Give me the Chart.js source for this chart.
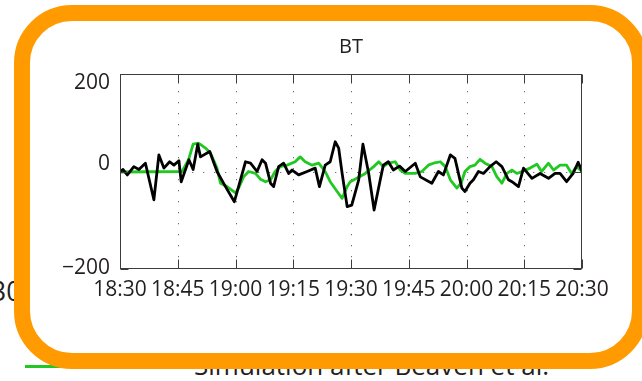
<!DOCTYPE html>
<html>
<head>
<meta charset="utf-8">
<script src="https://cdn.jsdelivr.net/npm/chart.js@4"></script>
<style>
  html, body { margin: 0; padding: 0; background: #fff; }
  body { width: 642px; height: 381px; overflow: hidden; position: relative; font-family: "Open Sans", sans-serif; color: #231f20; }
  #wrap { position: absolute; left: 0; top: 0; width: 642px; height: 381px; z-index: 2; }
  #side { position: absolute; left: -9px; top: 278px; font-size: 26.5px; line-height: 1; z-index: 1; }
  #caption { position: absolute; left: 194px; top: 352px; font-size: 26px; line-height: 1; white-space: nowrap; z-index: 1; }
  #key { position: absolute; left: 25px; top: 365px; width: 80px; height: 3px; background: #22c822; z-index: 1; }
  #frame { position: absolute; left: 14px; top: 5px; width: 634px; height: 364px; box-sizing: border-box;
           border: 16px solid #ff9b00; border-radius: 58px; z-index: 3; pointer-events: none; }
</style>
</head>
<body>
<div id="side">30</div>
<div id="key"></div>
<div id="caption">Simulation after Beaven et al.</div>
<div id="wrap"><canvas id="c" width="642" height="381"></canvas></div>
<div id="frame"></div>
<script>
// Time axis: minutes after 18:30, one tick every 15 minutes
const xTickLabels = ['18:30', '18:45', '19:00', '19:15', '19:30', '19:45', '20:00', '20:15', '20:30'];
const yTickValues = [-200, 0, 200];
const chartTitle = 'BT';

// Observed BT (black)
const observedMinutes = [0, 0.8, 1.9, 3.6, 4.9, 6.6, 8.8, 10.1, 11.4, 12.9, 14.0, 15.3, 15.9, 17.9, 19.0, 20.2, 20.9, 23.3, 25.2, 27.4,
  29.7, 30.8, 32.6, 33.9, 35.6, 36.9, 37.8, 39.1, 39.9, 41.2, 42.5, 43.8, 44.7, 46.4, 48.6, 50.7, 51.8, 53.3, 54.6, 55.9,
  56.8, 57.7, 59.0, 60.2, 62.0, 63.1, 64.6, 66.0, 67.6, 68.4, 69.7, 71.0, 72.6, 74.1, 76.7, 78.0, 81.0, 82.7, 84.0, 85.8,
  87.0, 88.8, 89.6, 90.9, 91.8, 93.1, 94.4, 96.1, 97.7, 99.2, 100.9, 101.8, 103.5, 104.8, 107.0, 109.1, 111.3, 113.0, 114.3, 116.0,
  117.7, 119.0, 120];
const observedBT = [0, 4, -7, 10, 4, 17, -58, 34, 7, 20, 13, 22, -21, 24, 4, 56, 30, 41, 0, -31,
  -62, -31, 20, 17, 0, 24, 17, -24, -31, 10, 17, -4, 3, -7, 0, 7, -31, 13, 20, 61,
  48, -4, -72, -69, -17, 56, -4, -79, -17, 13, 20, 3, 11, 0, 17, -11, -24, 0, -7, 34,
  27, -34, -41, -24, -17, 0, -4, 10, 20, 10, -17, -21, -31, 7, -14, -4, -14, -4, -4, -21,
  -4, 19, 0];

// Simulated BT (green)
const simulatedMinutes = [0, 16.1, 17.8, 19.0, 20.4, 22.2, 23.5, 25.2, 26.1, 27.8, 30.0, 30.8, 32.1, 33.4, 35.2, 36.5, 37.8, 39.1, 40.3, 41.6,
  43.4, 45.5, 46.8, 48.1, 49.9, 51.6, 53.3, 54.6, 56.4, 57.7, 59.0, 59.8, 61.5, 63.7, 65.9, 67.2, 68.4, 69.7, 71.5, 72.8,
  74.1, 76.7, 78.4, 80.1, 81.4, 83.2, 84.5, 85.8, 87.5, 88.6, 89.6, 90.9, 92.2, 93.5, 94.8, 96.6, 97.9, 99.2, 100.5, 101.8,
  103.1, 104.4, 106.5, 108.3, 109.5, 111.3, 112.6, 114.3, 116.0, 117.3, 118.6, 120];
const simulatedBT = [-1, 0, 24, 56, 58, 48, 38, 7, -24, -31, -44, -34, -11, 0, -4, -16, -21, -17, 0, 10,
  13, 20, 30, 20, 13, 17, 0, -21, -41, -55, -31, -21, -14, -4, 10, 20, 10, 17, 20, 3,
  -4, -4, 0, 13, 17, 20, 10, -17, -34, -24, 0, 10, 13, 25, 17, 10, -11, -24, -4, 3,
  -4, 0, 7, 15, 0, 17, 3, 13, 13, -4, 10, 0];

const toPoints = (ts, vs) => ts.map((t, i) => ({ x: t, y: vs[i] }));
const INK = '#231f20';
const FONT = '"Open Sans", sans-serif';

// Vertical nudges for the y tick labels (the top label sits inside the box)
const yLabelNudge = { '200': 9, '0': -7, '-200': -1 };

const frameAndGrid = {
  id: 'frameAndGrid',
  beforeDraw(chart) {
    const y = chart.scales.y;
    const items = y.getLabelItems(chart.chartArea);
    items.forEach((it, i) => {
      if (it._nudged) return;
      const v = y.ticks[i] ? y.ticks[i].value : null;
      it.options.translation[1] += yLabelNudge[String(v)] || 0;
      it._nudged = true;
    });
  },
  beforeDatasetsDraw(chart) {
    // dotted grid: inner time ticks and the zero line
    const { ctx, chartArea: a, scales: { x, y } } = chart;
    ctx.save();
    ctx.strokeStyle = '#707070';
    ctx.lineWidth = 1;
    ctx.setLineDash([1.3, 9.7]);
    ctx.beginPath();
    x.ticks.forEach((t, i) => {
      if (i === 0 || i === x.ticks.length - 1) return;
      const px = Math.round(x.getPixelForValue(t.value)) + 0.5;
      ctx.moveTo(px, a.top + 6); ctx.lineTo(px, a.bottom);
    });
    const py = Math.round(y.getPixelForValue(0)) + 0.5;
    ctx.moveTo(a.left + 6, py); ctx.lineTo(a.right, py);
    ctx.stroke();
    ctx.restore();
  },
  afterDatasetsDraw(chart) {
    // closed box with short inward ticks, plus the title
    const { ctx, chartArea: a, scales } = chart;
    const L = Math.round(a.left) + 0.5, R = Math.round(a.right) - 0.5;
    const T = Math.round(a.top) + 0.5, B = Math.round(a.bottom) - 0.5;
    ctx.save();
    ctx.strokeStyle = '#3c3c3c';
    ctx.lineWidth = 1;
    ctx.beginPath();
    scales.x.ticks.forEach(t => {
      const px = Math.round(scales.x.getPixelForValue(t.value)) + 0.5;
      ctx.moveTo(px, B); ctx.lineTo(px, B - 9);
      ctx.moveTo(px, T); ctx.lineTo(px, T + 9);
    });
    scales.y.ticks.forEach(t => {
      const py = Math.round(scales.y.getPixelForValue(t.value)) + 0.5;
      ctx.moveTo(L, py); ctx.lineTo(L + 8, py);
      ctx.moveTo(R, py); ctx.lineTo(R - 8, py);
    });
    ctx.stroke();
    ctx.strokeRect(L, T, R - L, B - T);
    ctx.fillStyle = INK;
    ctx.font = '20px ' + FONT;
    ctx.textAlign = 'center';
    ctx.textBaseline = 'middle';
    ctx.fillText(chartTitle, (a.left + a.right) / 2, a.top - 27);
    ctx.restore();
  }
};

new Chart(document.getElementById('c'), {
  type: 'line',
  data: {
    datasets: [
      { label: 'Observed', data: toPoints(observedMinutes, observedBT), borderColor: '#000000', borderWidth: 2.8 },
      { label: 'Simulation', data: toPoints(simulatedMinutes, simulatedBT), borderColor: '#22c822', borderWidth: 2.8 }
    ]
  },
  options: {
    responsive: false,
    devicePixelRatio: 1,
    animation: false,
    events: [],
    elements: { point: { radius: 0 }, line: { tension: 0, borderJoinStyle: 'round', borderCapStyle: 'round' } },
    layout: { padding: { left: 60, right: 60, top: 74, bottom: 0 } },
    plugins: {
      legend: { display: false },
      tooltip: { enabled: false },
      title: { display: false }
    },
    scales: {
      x: {
        type: 'linear',
        min: 0,
        max: 120,
        afterFit: s => { s.height = 112; },
        afterBuildTicks: s => { s.ticks = xTickLabels.map((_, i) => ({ value: i * 15 })); },
        border: { display: false },
        grid: { display: false, drawTicks: false },
        ticks: {
          autoSkip: false,
          maxRotation: 0,
          minRotation: 0,
          padding: 8,
          color: INK,
          font: { family: 'Open Sans', size: 21 },
          callback: (v, i) => xTickLabels[i]
        }
      },
      y: {
        min: -200,
        max: 200,
        afterFit: s => { s.width = 60; },
        afterBuildTicks: s => { s.ticks = yTickValues.map(v => ({ value: v })); },
        border: { display: false },
        grid: { display: false, drawTicks: false },
        ticks: {
          padding: 10,
          color: INK,
          font: { family: 'Open Sans', size: 21 },
          callback: v => v < 0 ? '\u2212' + Math.abs(v) : String(v)
        }
      }
    }
  },
  plugins: [frameAndGrid]
});
</script>
</body>
</html>
